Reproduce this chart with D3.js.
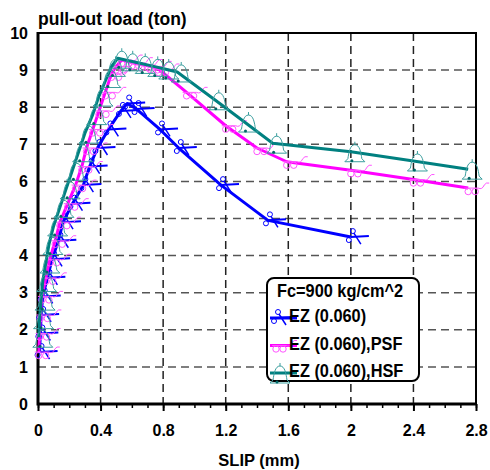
<!DOCTYPE html>
<html>
<head>
<meta charset="utf-8">
<script src="https://cdn.jsdelivr.net/npm/d3@7"></script>
<style>
  body { margin: 0; background: #fff; }
  svg { display: block; font-family: "Liberation Sans", Arial, sans-serif; font-weight: bold; }
</style>
</head>
<body>
<svg id="chart"></svg>
<script>
// Chart size
const width = 490;
const height = 470;

// Data (slip in mm, load in ton)
const ezSlip = [0.01, 0.015, 0.02, 0.03, 0.06, 0.09, 0.13, 0.16, 0.22, 0.29, 0.33, 0.38, 0.45, 0.53, 0.57, 0.63, 0.78, 0.9, 1.17, 1.47, 2.0];
const ezLoad = [1.4, 1.9, 2.4, 2.9, 3.4, 3.9, 4.4, 4.9, 5.4, 5.9, 6.4, 6.9, 7.4, 7.9, 8.1, 7.95, 7.4, 6.9, 5.9, 4.95, 4.5];

const psfSlip = [0.005, 0.01, 0.015, 0.025, 0.05, 0.075, 0.11, 0.14, 0.19, 0.24, 0.28, 0.31, 0.35, 0.39, 0.43, 0.47, 0.5, 0.535, 0.6, 0.66, 0.72, 0.77, 0.95, 1.2, 1.4, 1.59, 2.0, 2.4, 2.75];
const psfLoad = [1.4, 1.9, 2.4, 2.9, 3.4, 3.9, 4.4, 4.9, 5.4, 5.9, 6.4, 6.9, 7.4, 7.9, 8.4, 8.9, 9.1, 9.27, 9.2, 9.15, 9.1, 9.03, 8.4, 7.5, 6.9, 6.53, 6.3, 6.05, 5.82];

const hsfSlip = [0.005, 0.01, 0.02, 0.03, 0.05, 0.07, 0.1, 0.14, 0.18, 0.22, 0.26, 0.3, 0.35, 0.39, 0.44, 0.47, 0.51, 0.58, 0.66, 0.74, 0.81, 0.89, 1.13, 1.32, 1.5, 2.0, 2.4, 2.75];
const hsfLoad = [1.8, 2.3, 2.8, 3.3, 3.8, 4.3, 4.8, 5.3, 5.8, 6.3, 6.8, 7.3, 7.8, 8.3, 8.8, 9.1, 9.32, 9.25, 9.18, 9.1, 9.03, 8.95, 8.2, 7.6, 7.03, 6.8, 6.55, 6.33];

const seriesNames = ['EZ (0.060)', 'EZ (0.060),PSF', 'EZ (0.060),HSF'];
const xTicks = [0, 0.4, 0.8, 1.2, 1.6, 2, 2.4, 2.8];
const yTicks = [0, 1, 2, 3, 4, 5, 6, 7, 8, 9, 10];

const series = [
  { name: seriesNames[0], slip: ezSlip, load: ezLoad, color: '#0000ff', marker: 'scissors' },
  { name: seriesNames[1], slip: psfSlip, load: psfLoad, color: '#ff00ff', marker: 'glasses' },
  { name: seriesNames[2], slip: hsfSlip, load: hsfLoad, color: '#008080', marker: 'bell' }
];

const svg = d3.select('#chart')
  .attr('width', width)
  .attr('height', height);

// Scales
const x = d3.scaleLinear().domain([0, 2.8]).range([38, 476]);
const y = d3.scaleLinear().domain([0, 10]).range([404, 33]);

// Grid lines
svg.append('g')
  .selectAll('line')
  .data(yTicks.filter(d => d > 0 && d < 10))
  .join('line')
    .attr('x1', x(0)).attr('x2', x(2.8))
    .attr('y1', d => y(d)).attr('y2', d => y(d))
    .attr('stroke', '#555').attr('stroke-width', 1.5)
    .attr('stroke-dasharray', '8,5');

svg.append('g')
  .selectAll('line')
  .data(xTicks.filter(d => d > 0 && d < 2.8))
  .join('line')
    .attr('x1', d => x(d)).attr('x2', d => x(d))
    .attr('y1', y(10)).attr('y2', y(0))
    .attr('stroke', '#222').attr('stroke-width', 1.5)
    .attr('stroke-dasharray', '8,5');

// Frame (top and right thinner)
svg.append('path')
  .attr('d', `M${x(0)},${y(10)}H${x(2.8)}V${y(0)}`)
  .attr('fill', 'none').attr('stroke', '#000').attr('stroke-width', 2);

// X axis with minor ticks
const xAxis = svg.append('g')
  .attr('transform', `translate(0,${y(0)})`)
  .call(d3.axisBottom(x).tickValues(d3.range(0, 29).map(i => i / 10)).tickSize(4).tickFormat(''));
xAxis.select('.domain').remove();
xAxis.selectAll('line').attr('stroke', '#000').attr('stroke-width', 1.5);

const xMajor = svg.append('g')
  .attr('transform', `translate(0,${y(0)})`)
  .call(d3.axisBottom(x).tickValues(xTicks).tickSize(7).tickPadding(14).tickFormat(d => String(+d.toFixed(1))));
xMajor.select('.domain').remove();
xMajor.selectAll('line').attr('stroke', '#000').attr('stroke-width', 2);
xMajor.selectAll('text')
  .attr('font-size', 16).attr('font-weight', 'bold')
  .attr('font-family', '"Liberation Sans", Arial, sans-serif').attr('fill', '#000');

// Y axis labels
const yAxis = svg.append('g')
  .attr('transform', `translate(${x(0)},0)`)
  .call(d3.axisLeft(y).tickValues(yTicks).tickSize(0).tickPadding(10).tickFormat(d3.format('d')));
yAxis.select('.domain').remove();
yAxis.selectAll('text')
  .attr('font-size', 16).attr('font-weight', 'bold')
  .attr('font-family', '"Liberation Sans", Arial, sans-serif').attr('fill', '#000');

// Main axis lines
svg.append('path')
  .attr('d', `M${x(0)},${y(10) - 1}V${y(0)}H${x(2.8) + 1}`)
  .attr('fill', 'none').attr('stroke', '#000').attr('stroke-width', 3);

// Marker drawing
function drawMarker(g, type, color) {
  if (type === 'scissors') {
    g.append('circle').attr('cx', 2).attr('cy', -6).attr('r', 2.5)
      .attr('fill', 'none').attr('stroke', color).attr('stroke-width', 1);
    g.append('circle').attr('cx', -2).attr('cy', 3).attr('r', 2.5)
      .attr('fill', 'none').attr('stroke', color).attr('stroke-width', 1);
    g.append('path').attr('d', 'M0,0L18,-1').attr('stroke', color).attr('stroke-width', 2);
    g.append('path').attr('d', 'M3,-4L10,7').attr('stroke', color).attr('stroke-width', 1.5);
  } else if (type === 'glasses') {
    g.append('path').attr('d', 'M-4,0H10 Q14,2 16,-3 Q18,-6 21,-5')
      .attr('fill', 'none').attr('stroke', '#ff55ff').attr('stroke-width', 1);
    g.append('circle').attr('cx', 0).attr('cy', 3.5).attr('r', 3.2)
      .attr('fill', 'none').attr('stroke', '#ff55ff').attr('stroke-width', 1);
    g.append('circle').attr('cx', 7).attr('cy', 3.5).attr('r', 3.2)
      .attr('fill', 'none').attr('stroke', '#ff55ff').attr('stroke-width', 1);
  } else {
    g.append('path')
      .attr('d', 'M-3,7C-2,1 -1,-7 4,-7C9,-7 10,1 11,7L14,10L-6,10Z M4,-7V-10')
      .attr('fill', 'none').attr('stroke', '#3a9e9e').attr('stroke-width', 1);
    g.append('circle').attr('cx', 1).attr('cy', 9).attr('r', 1.5).attr('fill', '#006666');
  }
}

// Lines and markers
const line = d3.line().x(d => x(d[0])).y(d => y(d[1]));

series.forEach(s => {
  const pts = s.slip.map((v, i) => [v, s.load[i]]);
  svg.append('path')
    .datum(pts)
    .attr('d', line)
    .attr('fill', 'none')
    .attr('stroke', s.color)
    .attr('stroke-width', 3)
    .attr('stroke-linejoin', 'round');
  svg.append('g')
    .selectAll('g')
    .data(pts)
    .join('g')
      .attr('transform', d => `translate(${x(d[0])},${y(d[1])})`)
      .each(function () { drawMarker(d3.select(this), s.marker, s.color); });
});

// Titles
svg.append('text')
  .attr('x', 38).attr('y', 25)
  .attr('font-size', 17.5)
  .text('pull-out load (ton)');

svg.append('text')
  .attr('x', 259).attr('y', 466)
  .attr('text-anchor', 'middle')
  .attr('font-size', 16.5)
  .text('SLIP (mm)');

// Legend
const legend = svg.append('g');
legend.append('rect')
  .attr('x', 267).attr('y', 278)
  .attr('width', 152).attr('height', 103)
  .attr('rx', 7)
  .attr('fill', '#fff').attr('stroke', '#000').attr('stroke-width', 2);

legend.append('text')
  .attr('transform', 'translate(277,297) scale(0.86,1)')
  .attr('font-size', 19)
  .text('Fc=900 kg/cm^2');

series.forEach((s, i) => {
  const by = 322 + i * 27.5;
  legend.append('line')
    .attr('x1', 270).attr('x2', 297)
    .attr('y1', by - 4).attr('y2', by - 4)
    .attr('stroke', s.color).attr('stroke-width', 3);
  drawMarker(legend.append('g').attr('transform', `translate(276,${by - 4})`), s.marker, s.color);
  legend.append('text')
    .attr('transform', `translate(289,${by}) scale(0.86,1)`)
    .attr('font-size', 19)
    .text(s.name);
});
</script>
</body>
</html>
